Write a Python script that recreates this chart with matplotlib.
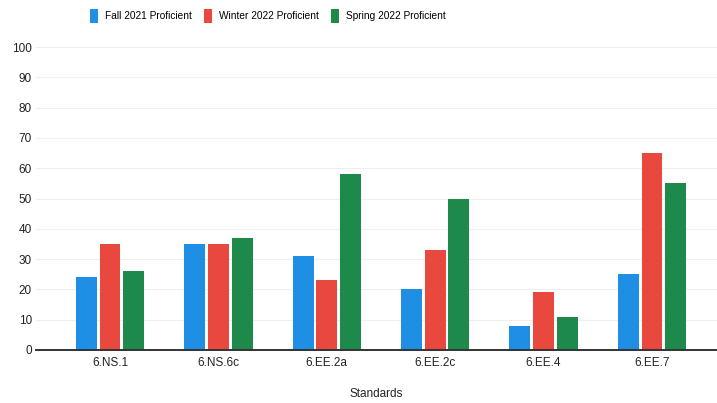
import matplotlib
matplotlib.use("Agg")
import matplotlib.pyplot as plt
import numpy as np

standards = ["6.NS.1", "6.NS.6c", "6.EE.2a", "6.EE.2c", "6.EE.4", "6.EE.7"]
fall_2021 = [24, 35, 31, 20, 8, 25]
winter_2022 = [35, 35, 23, 33, 19, 65]
spring_2022 = [26, 37, 58, 50, 11, 55]
series_names = ["Fall 2021 Proficient", "Winter 2022 Proficient", "Spring 2022 Proficient"]
colors = ["#1f8fe6", "#e8483d", "#1d8a4c"]
y_ticks = list(range(0, 101, 10))

plt.rcParams["font.family"] = ["Liberation Sans", "DejaVu Sans"]

fig = plt.figure(figsize=(7.17, 4.03), dpi=100)
ax = fig.add_axes([36 / 717, 1 - 350 / 403, 1 - 36 / 717, (350 - 47) / 403])

x = np.arange(len(standards))
step = 0.218
width = 0.193
for k, (vals, name, c) in enumerate(zip([fall_2021, winter_2022, spring_2022], series_names, colors)):
    ax.bar(x + (k - 1) * step, vals, width=width, color=c, label=name, zorder=3)

ax.set_xlim(-0.683, 5.60)
ax.set_ylim(0, 100)
ax.set_yticks(y_ticks)
ax.set_xticks(x)
ax.set_xticklabels(standards)
ax.tick_params(axis="both", length=0, labelsize=8.5, colors="#222222")
ax.tick_params(axis="y", pad=3)
ax.tick_params(axis="x", pad=5)
ax.yaxis.grid(True, color="#efefef", linewidth=0.8, zorder=0)
for s in ["top", "right", "left"]:
    ax.spines[s].set_visible(False)
ax.spines["bottom"].set_color("#333333")
ax.spines["bottom"].set_linewidth(1.4)
ax.spines["bottom"].set_zorder(4)

ax.set_xlabel("Standards", fontsize=8.5, color="#222222", labelpad=14)

fig.legend(loc="center", bbox_to_anchor=(268 / 717, 1 - 16 / 403), ncol=3, frameon=False,
           fontsize=7.3, handlelength=0.8, handleheight=1.6, handletextpad=0.7, columnspacing=1.2)

fig.savefig("out.png", dpi=100)
